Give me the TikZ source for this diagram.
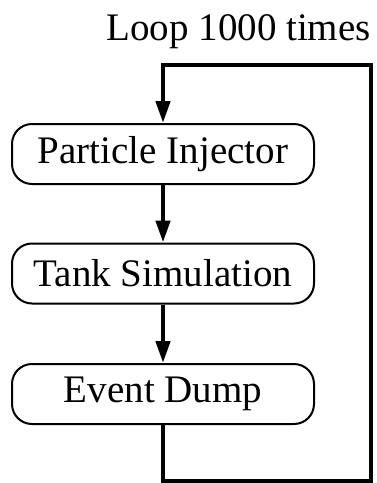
\documentclass[tikz,border=0pt]{standalone}
\usepackage{fontspec}
\setmainfont{Liberation Serif}
\usetikzlibrary{arrows.meta}
\begin{document}
\begin{tikzpicture}[x=1pt,y=-1pt,
  stepbox/.style={draw,line width=2pt,rounded corners=20pt,minimum width=302pt,minimum height=60pt,inner sep=0pt,font=\fontsize{39}{44}\selectfont},
  flow/.style={line width=4.5pt,-{Triangle[length=22pt,width=14pt]}},
  loopline/.style={line width=4.5pt}]
\useasboundingbox (0,0) rectangle (376,483);
\node[stepbox] (pi) at (163,154) {Particle Injector};
\node[stepbox] (ts) at (163,273.5) {Tank Simulation};
\node[stepbox] (ed) at (163,394) {Event Dump};
\node[anchor=base east,inner sep=0pt,font=\fontsize{39}{44}\selectfont] (lbl) at (371,40) {Loop 1000 times};
\coordinate (top) at (163,65);
\coordinate (tr) at (371,65);
\coordinate (br) at (371,481);
\coordinate (bl) at (163,481);
\draw[flow] (pi) -- (ts);
\draw[flow] (ts) -- (ed);
\draw[flow] (ed.south) -- (bl) -- (br) -- (tr) -- (top) -- (pi.north);
\end{tikzpicture}
\end{document}
